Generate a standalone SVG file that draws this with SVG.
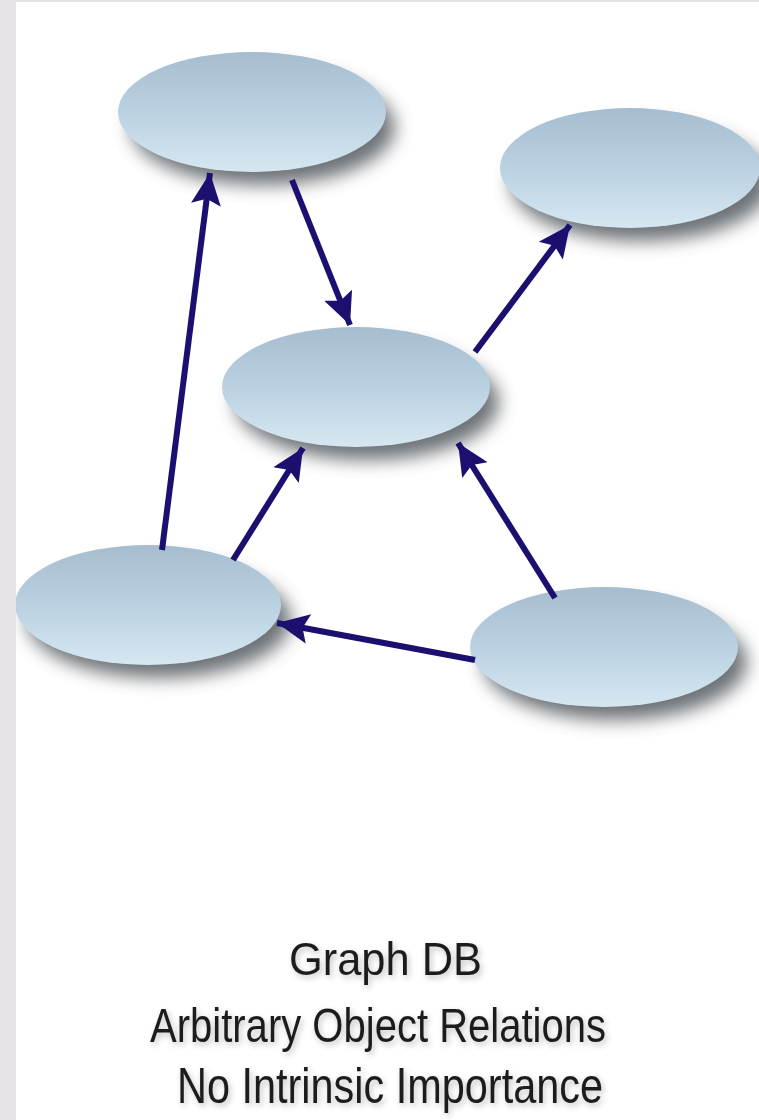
<svg xmlns="http://www.w3.org/2000/svg" width="759" height="1120" viewBox="0 0 759 1120">
  <style>
    .node { fill: url(#nodeGrad); }
    .shadow { fill: #4a4f55; opacity: 0.8; filter: url(#blur); }
    .edge { stroke: #1b1070; stroke-width: 6; fill: none; marker-end: url(#arrow); }
    .caption { font-family: "Liberation Sans", Arial, sans-serif; fill: #1e1e1e; filter: url(#txtShadow); }
  </style>
  <defs>
    <linearGradient id="nodeGrad" x1="0" y1="0" x2="0" y2="1">
      <stop offset="0" stop-color="#a6bdd0"/>
      <stop offset="0.5" stop-color="#bad1e2"/>
      <stop offset="1" stop-color="#d6e7f1"/>
    </linearGradient>
    <filter id="blur" x="-20%" y="-40%" width="140%" height="180%">
      <feGaussianBlur stdDeviation="9"/>
    </filter>
    <filter id="txtShadow" x="-10%" y="-30%" width="120%" height="160%">
      <feGaussianBlur in="SourceAlpha" stdDeviation="3" result="b"/>
      <feOffset dx="2" dy="3" in="b" result="o"/>
      <feComponentTransfer in="o" result="s"><feFuncA type="linear" slope="0.25"/></feComponentTransfer>
      <feMerge><feMergeNode in="s"/><feMergeNode in="SourceGraphic"/></feMerge>
    </filter>
    <marker id="arrow" markerUnits="userSpaceOnUse" markerWidth="34" markerHeight="34" viewBox="0 0 34 34" refX="32" refY="17" orient="auto">
      <path d="M0,2 L32,17 L0,32 L6,17 Z" fill="#1b1070"/>
    </marker>
  </defs>

  <rect x="0" y="0" width="759" height="1120" fill="#ffffff"/>

  <g id="node-top">
    <ellipse class="shadow" cx="263" cy="127" rx="132" ry="58"/>
    <ellipse class="node" cx="252" cy="112" rx="134" ry="60"/>
  </g>
  <g id="node-topright">
    <ellipse class="shadow" cx="641" cy="183" rx="130" ry="58"/>
    <ellipse class="node" cx="630" cy="168" rx="130" ry="60"/>
  </g>
  <g id="node-middle">
    <ellipse class="shadow" cx="367" cy="402" rx="132" ry="58"/>
    <ellipse class="node" cx="356" cy="387" rx="134" ry="60"/>
  </g>
  <g id="node-bottomleft">
    <ellipse class="shadow" cx="159" cy="620" rx="132" ry="58"/>
    <ellipse class="node" cx="148" cy="605" rx="133" ry="60"/>
  </g>
  <g id="node-bottomright">
    <ellipse class="shadow" cx="615" cy="662" rx="132" ry="58"/>
    <ellipse class="node" cx="604" cy="647" rx="134" ry="60"/>
  </g>

  <rect x="0" y="0" width="16" height="1120" fill="#e6e4e8"/>
  <rect x="0" y="0" width="759" height="2" fill="#e6e4e8"/>

  <g id="connectors">
    <line class="edge" x1="292" y1="180" x2="350" y2="325"/>
    <line class="edge" x1="475" y1="352" x2="570" y2="225"/>
    <line class="edge" x1="162" y1="550" x2="210" y2="173"/>
    <line class="edge" x1="233" y1="560" x2="303" y2="448"/>
    <line class="edge" x1="555" y1="598" x2="458" y2="443"/>
    <line class="edge" x1="475" y1="660" x2="277" y2="623"/>
  </g>

  <g id="caption">
    <text class="caption" x="289" y="975" font-size="46" textLength="193" lengthAdjust="spacingAndGlyphs">Graph DB</text>
    <text class="caption" x="150" y="1042" font-size="48" textLength="456" lengthAdjust="spacingAndGlyphs">Arbitrary Object Relations</text>
    <text class="caption" x="177" y="1103" font-size="50" textLength="426" lengthAdjust="spacingAndGlyphs">No Intrinsic Importance</text>
  </g>
</svg>
